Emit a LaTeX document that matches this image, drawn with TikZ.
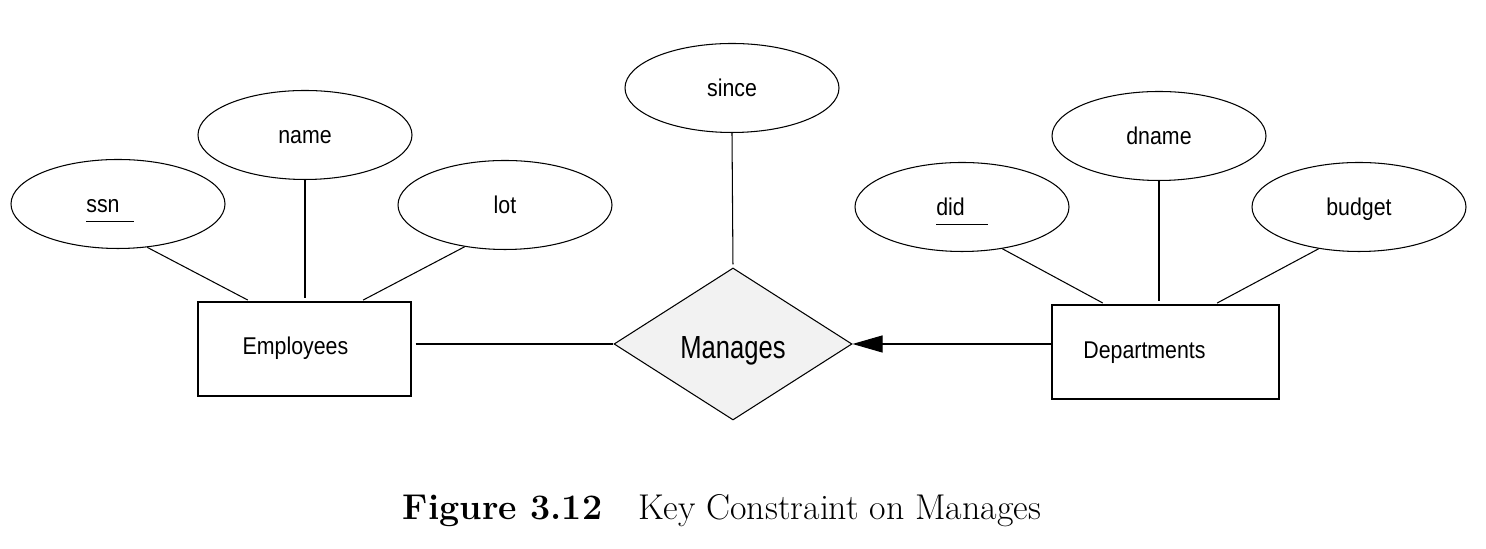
\documentclass[tikz,border=0pt]{standalone}
\usepackage{fontspec}
\setsansfont{Liberation Sans}
\usepackage{graphicx}
\usetikzlibrary{shapes.geometric,arrows.meta,positioning}

\newcommand{\lbl}[1]{\scalebox{0.88}[1]{#1}}
\newcommand{\keyattr}[2]{\underline{\lbl{#1}\rule[-3.6pt]{0pt}{1pt}\hspace{#2}}}

\begin{document}
\begin{tikzpicture}[
    attr/.style={ellipse, draw, line width=0.6pt, minimum width=4.28cm, minimum height=1.78cm, inner sep=0pt, font=\sffamily\fontsize{13.8}{16}\selectfont, text height=10.2pt, text depth=0pt},
    entity/.style={rectangle, draw, line width=0.6pt, minimum height=1.88cm, inner sep=0pt, font=\sffamily\fontsize{13.8}{16}\selectfont, text depth=0pt},
    relation/.style={diamond, draw, line width=0.6pt, fill=gray!10, minimum width=4.76cm, minimum height=3.04cm, inner sep=0pt, font=\sffamily\fontsize{18.2}{22}\selectfont, text height=17pt, text depth=0pt},
    link/.style={line width=0.6pt, shorten >=0.06cm},
    arrow/.style={line width=0.6pt, -{Triangle[length=0.6cm, width=0.34cm]}}]

    \useasboundingbox (0,0) rectangle (29.72,10.98);

    % attributes
    \node[attr] (ssn) at (2.36,6.90) {\keyattr{ssn}{0.28cm}\rule{0.32cm}{0pt}};
    \node[attr] (name) at (6.10,8.28) {\lbl{name}};
    \node[attr] (lot) at (10.10,6.88) {\lbl{lot}};
    \node[attr] (since) at (14.64,9.22) {\lbl{since}};
    \node[attr] (did) at (19.24,6.84) {\keyattr{did}{0.46cm}};
    \node[attr] (dname) at (23.18,8.26) {\lbl{dname}};
    \node[attr] (budget) at (27.18,6.84) {\lbl{budget}};

    % entities and relationship
    \node[entity, minimum width=4.26cm, text height=6.8pt] (emp) at (6.09,4.00) {\lbl{Employees}\rule{0.36cm}{0pt}};
    \node[entity, minimum width=4.54cm, text height=7.4pt] (dept) at (23.31,3.94) {\lbl{Departments}\rule{0.84cm}{0pt}};
    \node[relation] (man) at (14.66,4.10) {\scalebox{0.8}[1]{Manages}};

    \draw[link] (ssn.-56) -- ([xshift=1.06cm]emp.north west);
    \draw[link] (name.south) -- (name.south |- emp.north);
    \draw[link] (lot.-134) -- ([xshift=3.26cm]emp.north west);
    \draw[link] (since.south) -- (man.north);
    \draw[link] (did.-46) -- ([xshift=1.08cm]dept.north west);
    \draw[link] (dname.south) -- (dname.south |- dept.north);
    \draw[link] (budget.-134) -- ([xshift=3.26cm]dept.north west);

    \draw[link, shorten <=0.08cm, shorten >=0pt] (emp.east |- man.west) -- (man.west);
    \draw[arrow] (dept.west |- man.east) -- (man.east);

    \node[anchor=base, font=\fontsize{20.4}{24}\selectfont] (caption) at (14.44,0.58) {\textbf{Figure 3.12}\quad Key Constraint on Manages};
\end{tikzpicture}
\end{document}
